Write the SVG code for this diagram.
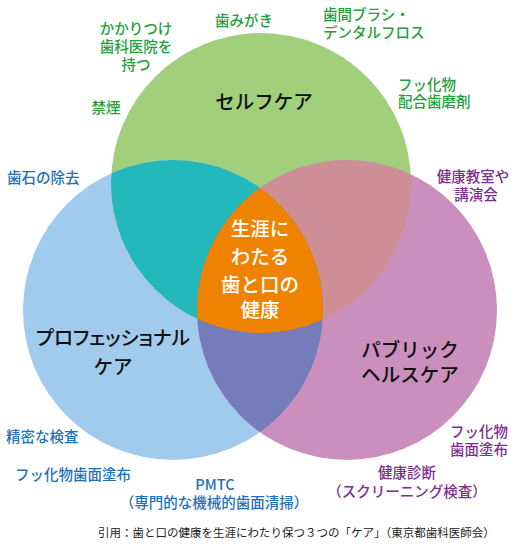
<svg xmlns="http://www.w3.org/2000/svg" width="527" height="556" viewBox="0 0 527 556">
<style>
text{font-family:"Noto Sans CJK JP","Noto Sans",sans-serif;text-anchor:middle;font-weight:500}
.g{fill:#24a03c;font-size:14.5px}
.b{fill:#1f70b9;font-size:14.5px}
.p{fill:#7d2f8d;font-size:14.5px}
.big{fill:#111;font-size:19.5px}
.c{fill:#fff;font-size:19.5px}
.l{text-anchor:start}
.cap{fill:#222;font-size:11.5px;text-anchor:start;font-weight:normal}
</style>
<defs>
<clipPath id="cg"><circle cx="261" cy="183" r="150"/></clipPath>
<clipPath id="cb"><circle cx="173" cy="310" r="150"/></clipPath>
<clipPath id="cp"><circle cx="347" cy="310" r="150"/></clipPath>
</defs>
<rect width="527" height="556" fill="#fff"/>
<g id="circles">
<g id="self-care"><circle cx="261" cy="183" r="150" fill="#a2cf7b"/></g>
<g id="professional-care"><circle cx="173" cy="310" r="150" fill="#a1cbec"/></g>
<g id="public-health-care"><circle cx="347" cy="310" r="150" fill="#cb8fbd"/></g>
<g id="overlap-gb" clip-path="url(#cg)"><circle cx="173" cy="310" r="150" fill="#23b8bb"/></g>
<g id="overlap-gp" clip-path="url(#cg)"><circle cx="347" cy="310" r="150" fill="#cd8f95"/></g>
<g id="overlap-bp" clip-path="url(#cb)"><circle cx="347" cy="310" r="150" fill="#767bb9"/></g>
<g id="center" clip-path="url(#cg)"><g clip-path="url(#cb)"><circle cx="347" cy="310" r="150" fill="#ef8300"/></g></g>
</g>
<g id="labels-main">
<text class="big" x="264" y="109">セルフケア</text>
<text class="big" x="113" y="345" style="font-feature-settings:'palt'">プロフェッショナル</text>
<text class="big" x="113" y="374">ケア</text>
<text class="big" x="410" y="357">パブリック</text>
<text class="big" x="410" y="382">ヘルスケア</text>
</g>
<g id="center-label">
<text class="c" x="260" y="236">生涯に</text>
<text class="c" x="260" y="264">わたる</text>
<text class="c" x="260" y="292">歯と口の</text>
<text class="c" x="260" y="317">健康</text>
</g>
<g id="self-items">
<text class="g" x="136" y="34">かかりつけ</text>
<text class="g" x="136" y="52">歯科医院を</text>
<text class="g" x="136" y="70">持つ</text>
<text class="g" x="244" y="26">歯みがき</text>
<text class="g l" x="323" y="20">歯間ブラシ・</text>
<text class="g l" x="323" y="38">デンタルフロス</text>
<text class="g l" x="398" y="90">フッ化物</text>
<text class="g l" x="398" y="107">配合歯磨剤</text>
<text class="g" x="106" y="113">禁煙</text>
</g>
<g id="pro-items">
<text class="b l" x="7" y="183">歯石の除去</text>
<text class="b l" x="6" y="442">精密な検査</text>
<text class="b l" x="15" y="480">フッ化物歯面塗布</text>
<text class="b" x="215" y="490">PMTC</text>
<text class="b" x="214" y="508">（専門的な機械的歯面清掃）</text>
</g>
<g id="public-items">
<text class="p" x="473" y="182">健康教室や</text>
<text class="p" x="476" y="200">講演会</text>
<text class="p" x="479" y="437">フッ化物</text>
<text class="p" x="479" y="455">歯面塗布</text>
<text class="p" x="407" y="478">健康診断</text>
<text class="p" x="407" y="497">（スクリーニング検査）</text>
</g>
<text class="cap" x="98" y="537">引用：歯と口の健康を生涯にわたり保つ３つの「ケア」（東京都歯科医師会）</text>
</svg>
